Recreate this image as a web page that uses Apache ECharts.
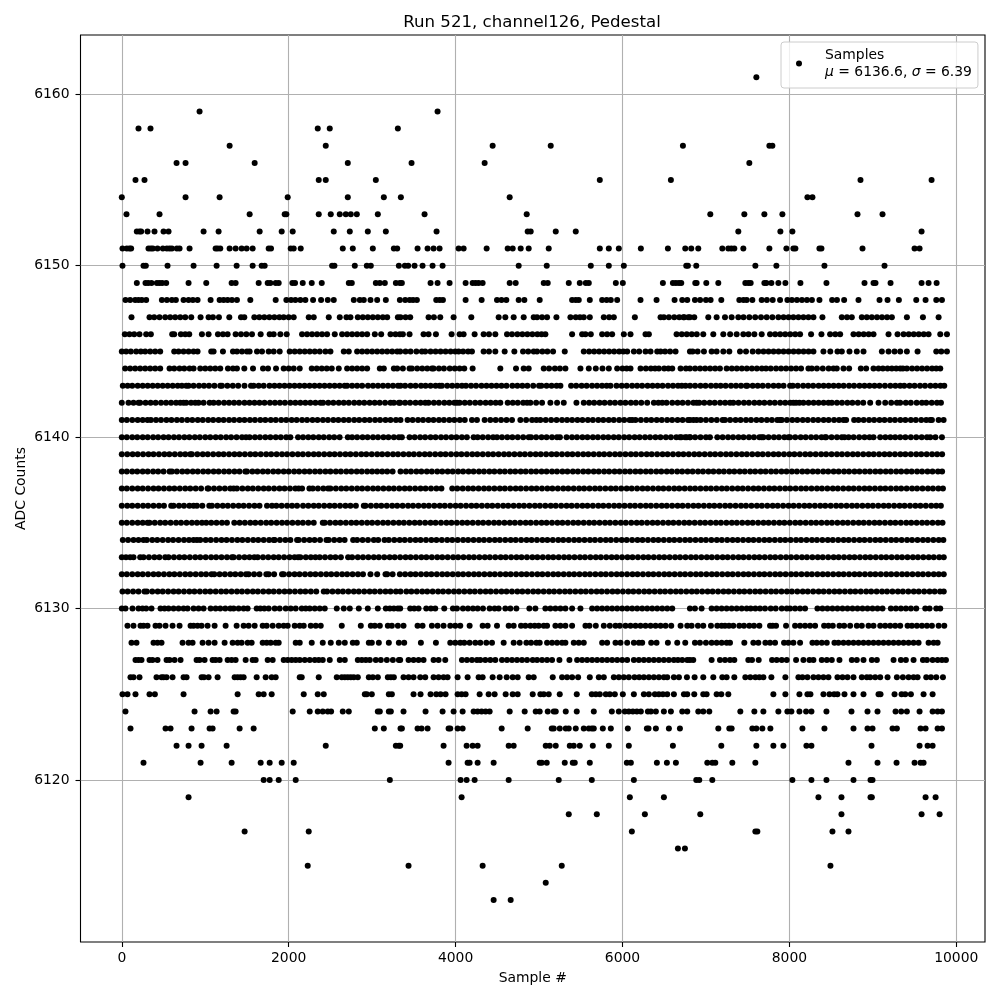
<!DOCTYPE html>
<html><head><meta charset="utf-8">
<script src="https://cdn.jsdelivr.net/npm/echarts@6/dist/echarts.min.js"></script>
<style>html,body{margin:0;padding:0;background:#fff}#c{width:1000px;height:1000px}</style>
</head><body><div id="c"></div>
<script>
const adc6161=[7604];
const adc6160=[];
const adc6159=[932,3784];
const adc6158=[200,344,2348,2492,3308];
const adc6157=[1292,2444,4444,5140,6724,7760,7796];
const adc6156=[656,764,1592,2708,3472,4348,7520];
const adc6155=[164,272,2360,2444,3044,5728,6580,8852,9704];
const adc6154=[0,764,1172,1988,2708,3140,3344,4648,8216,8276];
const adc6153=[56,452,1532,1952,1972,2360,2504,2612,2684,2744,2816,3068,3628,4852,7052,7460,7700,7916,8816,9116];
const adc6152=[180,212,232,308,392,500,560,980,1160,1652,1916,2048,2540,2732,2948,3164,3772,4864,4900,5200,5440,7388,7892,8036,9584];
const adc6151=[8,60,92,112,320,348,372,428,492,540,572,600,660,692,812,1124,1148,1180,1292,1364,1436,1496,1568,1760,1788,2024,2060,2144,2648,2768,3008,3260,3300,3544,3664,3736,3808,4036,4096,4372,4624,4684,4780,4876,5116,5728,5836,5956,6220,6544,6752,6824,6908,7196,7268,7304,7340,7448,7760,7964,8048,8072,8360,8384,8876,9500,9560];
const adc6150=[8,260,288,548,860,1136,1376,1568,1676,1712,2520,2548,2792,2936,2984,3320,3392,3432,3508,3604,3724,3844,4756,5092,5620,5836,6016,6764,6784,6884,7592,7844,8420,9140];
const adc6149=[180,284,316,356,420,452,484,532,800,1012,1316,1364,1640,1748,1780,1844,1880,2044,2076,2168,2276,2396,2720,2756,3044,3092,3152,3284,3332,3356,3700,3784,3928,4120,4204,4240,4276,4324,4648,4720,5056,5104,5356,5488,5560,5596,5920,6004,6484,6604,6640,6676,6704,6872,6888,7004,7148,7472,7508,7536,7700,7724,7784,7868,7952,8132,8444,8900,9008,9032,9212,9584,9668,9764];
const adc6148=[44,100,160,200,240,292,480,540,600,648,740,800,852,908,1064,1172,1220,1268,1320,1380,1540,1844,1972,2028,2080,2140,2200,2292,2388,2468,2540,2780,2852,2900,2980,3060,3164,3332,3396,3450,3490,3536,3768,3810,3848,4120,4312,4496,4550,4608,4756,4824,5008,5396,5440,5476,5608,5756,5810,5860,5936,6216,6408,6624,6716,6776,6868,6930,7000,7056,7184,7400,7450,7488,7556,7668,7730,7800,7888,7976,8030,8090,8150,8210,8270,8360,8512,8570,8656,8828,9080,9176,9312,9520,9632,9760,9828];
const adc6147=[116,332,388,452,520,580,640,700,760,832,944,1040,1092,1164,1288,1428,1468,1588,1648,1708,1768,1828,1888,1940,2000,2060,2240,2300,2480,2612,2692,2740,2828,2888,2948,3008,3068,3128,3180,3308,3340,3400,3456,3676,3740,3816,3976,4188,4516,4596,4696,4816,4936,4976,5036,5096,5208,5376,5440,5490,5536,5608,5776,5840,5896,6148,6456,6496,6556,6620,6680,6740,6808,6730,6788,6860,7028,7128,7228,7308,7388,7450,7520,7590,7660,7728,7796,7868,7930,7990,8048,8108,8168,8228,8288,8396,8628,8690,8748,8868,8928,8988,9050,9110,9170,9228,9408,9600,9788];
const adc6146=[36,92,148,212,292,348,604,628,708,760,808,960,1040,1152,1212,1268,1364,1428,1492,1560,1664,1772,1820,1900,1976,2160,2220,2280,2340,2400,2460,2552,2640,2700,2760,2820,2880,2940,3032,3108,3220,3280,3332,3368,3448,3616,3676,3764,3952,4048,4096,4228,4336,4400,4476,4616,4676,4740,4800,4860,4920,4980,5030,5076,5396,5516,5556,5620,5756,5816,5876,6016,6096,6276,6316,6648,6710,6770,6830,6890,6968,7088,7208,7290,7368,7448,7510,7580,7668,7768,7830,7890,7950,8010,8070,8128,8260,8384,8488,8550,8608,8768,8830,8890,8950,9008,9188,9296,9368,9430,9490,9550,9610,9668,9808,9888];
const adc6145=[0,52,108,172,228,280,340,400,460,628,680,740,800,860,908,1072,1100,1212,1332,1380,1440,1500,1532,1620,1680,1760,1820,1892,2012,2072,2132,2192,2252,2312,2372,2440,2500,2660,2720,2820,2880,2940,3000,3060,3120,3180,3240,3300,3336,3400,3460,3530,3596,3636,3700,3760,3820,3880,3940,3996,4036,4090,4150,4196,4336,4400,4476,4588,4704,4808,4870,4936,4976,5040,5100,5168,5308,5536,5600,5660,5720,5780,5840,5900,5960,6010,6056,6136,6200,6276,6336,6416,6456,6510,6570,6636,6808,6840,6900,6976,7068,7128,7208,7280,7408,7480,7560,7628,7690,7750,7810,7870,7930,7990,8050,8110,8170,8230,8288,8408,8490,8576,8628,8720,8808,8888,9108,9188,9260,9328,9408,9536,9760,9820,9888];
const adc6144=[40,100,160,220,280,340,400,460,572,628,692,748,812,860,940,1000,1060,1120,1180,1272,1332,1380,1468,1572,1692,1752,1848,1940,2000,2060,2132,2276,2336,2396,2456,2516,2600,2700,2760,2820,2880,2940,3092,3140,3260,3300,3368,3448,3476,3540,3600,3660,3716,3736,3800,3860,3930,3990,4048,4104,4204,4536,4724,4816,4876,5056,5120,5190,5250,5316,5496,5596,5680,5760,5836,5936,6000,6050,6096,6216,6280,6340,6390,6436,6500,6550,6596,6696,6760,6808,6870,6930,6990,7050,7110,7168,7248,7310,7370,7430,7490,7550,7610,7670,7720,7776,7840,7900,7960,8020,8080,8140,8228,8268,8330,8400,8470,8528,8568,8648,8716,8856,8920,9008,9068,9120,9176,9228,9280,9328,9360,9408,9470,9530,9590,9650,9710,9760,9808];
const adc6143=[12,70,125,190,250,310,370,430,490,550,610,670,720,772,800,860,925,985,1045,1110,1180,1200,1265,1330,1395,1470,1548,1580,1640,1700,1770,1830,1890,1950,2010,2070,2130,2190,2250,2310,2370,2430,2490,2550,2610,2670,2700,2760,2820,2880,2950,3010,3070,3130,3190,3250,3310,3340,3395,3460,3520,3585,3640,3700,3760,3808,3836,3900,3960,4020,4076,4124,4185,4245,4310,4370,4430,4490,4550,4610,4680,4740,4800,4860,4930,5000,5028,5090,5150,5210,5256,5384,5445,5510,5570,5635,5695,5755,5810,5856,5928,5990,6050,6115,6175,6235,6300,6360,6420,6480,6545,6605,6665,6710,6756,6810,6870,6935,6995,7060,7120,7176,7236,7300,7360,7420,7480,7496,7560,7620,7680,7745,7810,7870,7930,8008,8040,8100,8165,8225,8285,8350,8410,8470,8530,8590,8650,8715,8775,8840,8900,8960,9020,9080,9145,9210,9270,9328,9376,9440,9500,9565,9625,9690,9750,9810,9856];
const adc6142=[0,80,140,200,220,285,345,405,470,530,590,650,700,740,772,830,880,920,980,1052,1100,1160,1225,1285,1345,1405,1470,1530,1590,1650,1710,1775,1835,1895,1955,2020,2080,2140,2200,2260,2320,2380,2412,2475,2535,2600,2660,2720,2785,2845,2905,2970,3030,3090,3155,3220,3260,3320,3336,3395,3455,3520,3580,3636,3676,3740,3800,3865,3925,3985,4016,4048,4110,4170,4235,4295,4360,4420,4480,4536,4624,4685,4745,4810,4856,4896,4965,5036,5136,5216,5296,5448,5536,5600,5660,5725,5785,5850,5910,5975,6035,6100,6160,6225,6296,6376,6430,6476,6528,6596,6660,6720,6785,6850,6888,6920,6980,7045,7105,7170,7230,7288,7328,7390,7455,7515,7580,7640,7700,7765,7825,7890,7950,8010,8048,8080,8120,8168,8230,8290,8350,8410,8468,8508,8570,8630,8695,8755,8820,8885,8968,9068,9148,9220,9288,9328,9395,9455,9525,9588,9640,9705,9768,9816];
const adc6141=[0,60,125,190,250,308,348,410,470,535,595,660,720,785,845,910,970,1035,1095,1160,1220,1285,1345,1410,1470,1535,1595,1660,1720,1785,1845,1910,1970,2035,2095,2160,2220,2285,2345,2410,2470,2535,2595,2660,2720,2785,2845,2910,2970,3035,3095,3160,3220,3285,3340,3424,3485,3550,3610,3675,3735,3800,3860,3925,3985,4050,4110,4196,4256,4348,4416,4480,4545,4610,4676,4776,4845,4916,4968,5016,5080,5145,5210,5275,5336,5396,5460,5520,5585,5645,5710,5770,5835,5895,5960,6020,6085,6116,6156,6220,6285,6345,6410,6470,6535,6595,6660,6720,6785,6808,6850,6888,6936,7000,7065,7130,7200,7228,7290,7355,7415,7480,7540,7605,7665,7730,7790,7855,7888,7908,7970,8035,8095,8160,8220,8285,8345,8410,8470,8535,8595,8648,8680,8776,8828,8890,8955,9015,9080,9140,9205,9265,9330,9390,9455,9515,9580,9640,9688,9708,9788,9848];
const adc6140=[0,60,125,185,250,310,375,435,500,560,625,685,750,810,875,935,1000,1060,1125,1185,1250,1310,1375,1440,1488,1532,1595,1655,1720,1780,1845,1905,1970,2020,2112,2172,2235,2295,2360,2420,2485,2545,2610,2708,2760,2820,2885,2945,3010,3070,3135,3195,3260,3320,3356,3448,3510,3575,3635,3700,3760,3825,3885,3950,4010,4075,4135,4216,4264,4325,4390,4450,4496,4556,4620,4680,4745,4810,4876,4904,4965,5030,5090,5155,5215,5250,5330,5395,5455,5520,5580,5645,5705,5770,5830,5895,5955,6020,6080,6145,6205,6270,6330,6395,6455,6520,6580,6645,6705,6770,6808,6688,6750,6810,6870,6935,7000,7048,7136,7200,7265,7325,7390,7450,7515,7575,7640,7668,7688,7750,7815,7875,7940,7988,8008,8070,8135,8195,8260,8320,8385,8428,8440,8505,8570,8628,8660,8710,8770,8836,8900,8960,9008,9088,9150,9210,9268,9328,9390,9455,9520,9585,9648,9688,9750,9828];
const adc6139=[0,65,130,190,255,320,380,445,510,570,635,700,760,820,840,905,970,1030,1095,1160,1220,1285,1350,1410,1475,1540,1600,1665,1730,1790,1855,1920,1980,2045,2110,2170,2235,2300,2360,2425,2490,2550,2615,2680,2740,2805,2870,2930,2995,3060,3120,3185,3250,3310,3375,3440,3500,3565,3630,3690,3755,3820,3880,3945,4010,4070,4135,4200,4260,4325,4390,4450,4515,4580,4640,4705,4770,4830,4895,4960,5020,5085,5150,5210,5275,5340,5400,5465,5530,5590,5655,5720,5780,5845,5910,5970,6035,6100,6160,6225,6290,6350,6415,6480,6540,6605,6670,6730,6795,6860,6920,6985,7050,7110,7175,7240,7300,7365,7430,7490,7555,7620,7680,7745,7810,7870,7935,8000,8060,8125,8190,8250,8315,8380,8440,8505,8570,8630,8695,8760,8820,8885,8950,9010,9075,9140,9200,9265,9330,9390,9455,9520,9580,9645,9710,9770,9830];
const adc6138=[0,60,125,185,250,310,375,435,500,572,600,660,725,785,850,910,975,1035,1100,1160,1225,1285,1350,1410,1480,1500,1565,1625,1690,1750,1815,1875,1940,2000,2065,2125,2190,2250,2315,2375,2440,2500,2565,2625,2690,2750,2815,2875,2940,3000,3060,3120,3180,3245,3340,3405,3465,3530,3590,3655,3715,3780,3840,3905,3965,4030,4090,4155,4215,4280,4340,4405,4465,4530,4590,4655,4715,4780,4840,4905,4965,5030,5090,5155,5215,5280,5340,5405,5465,5530,5590,5655,5715,5780,5840,5905,5965,6030,6090,6155,6215,6280,6340,6405,6465,6530,6590,6655,6715,6780,6840,6905,6965,7030,7090,7155,7215,7280,7340,7405,7465,7530,7590,7655,7715,7780,7840,7905,7965,8030,8090,8155,8215,8280,8340,8405,8465,8530,8590,8655,8715,8780,8840,8905,8965,9030,9090,9155,9215,9280,9340,9405,9465,9530,9590,9655,9715,9780,9830];
const adc6137=[0,60,125,190,250,315,380,440,505,570,630,695,760,820,885,950,1028,1040,1105,1170,1235,1300,1340,1380,1445,1510,1570,1635,1700,1760,1825,1890,1950,2015,2080,2120,2160,2248,2288,2350,2415,2472,2500,2565,2630,2690,2755,2820,2880,2945,3010,3070,3135,3200,3260,3325,3390,3450,3515,3580,3640,3705,3770,3830,3960,4020,4085,4150,4210,4275,4340,4400,4465,4530,4590,4655,4720,4780,4845,4910,4970,5035,5100,5160,5225,5290,5350,5415,5480,5540,5605,5670,5730,5795,5860,5920,5985,6050,6110,6175,6240,6300,6365,6430,6490,6555,6620,6680,6745,6810,6870,6935,7000,7060,7125,7190,7250,7315,7380,7440,7505,7570,7630,7695,7760,7820,7885,7950,8010,8075,8140,8200,8265,8330,8390,8455,8520,8580,8645,8710,8770,8835,8900,8960,9025,9090,9150,9215,9280,9340,9405,9470,9530,9595,9660,9720,9785,9840];
const adc6136=[0,65,125,190,255,315,380,445,505,592,620,685,745,810,860,900,965,1048,1080,1145,1210,1270,1335,1400,1460,1525,1590,1650,1740,1800,1852,1915,1980,2040,2100,2172,2235,2300,2360,2425,2490,2550,2615,2680,2740,2805,2900,2920,2985,3050,3110,3175,3240,3300,3365,3430,3490,3555,3620,3680,3745,3810,3870,3935,4000,4060,4125,4190,4250,4315,4380,4440,4505,4570,4630,4695,4760,4820,4885,4950,5010,5075,5140,5200,5265,5330,5390,5455,5520,5580,5645,5710,5770,5835,5900,5960,6025,6090,6150,6215,6280,6340,6405,6470,6530,6595,6660,6720,6785,6850,6910,6975,7040,7100,7165,7230,7290,7355,7420,7480,7545,7610,7670,7735,7800,7860,7925,7990,8050,8115,8180,8240,8305,8370,8430,8495,8560,8620,8685,8750,8810,8875,8940,9000,9065,9130,9190,9255,9320,9380,9445,9510,9570,9635,9700,9760,9815];
const adc6135=[0,60,125,190,250,308,332,395,460,520,585,650,710,775,840,900,960,1012,1072,1135,1200,1260,1348,1412,1475,1540,1600,1665,1730,1790,1855,1920,1980,2045,2110,2170,2235,2300,2408,2432,2495,2560,2620,2685,2750,2810,2875,2940,3000,3065,3130,3190,3255,3320,3380,3445,3510,3570,3635,3700,3760,3825,3890,3950,4015,4080,4140,4205,4270,4330,4395,4460,4520,4585,4650,4710,4775,4840,4900,4965,5030,5090,5155,5220,5280,5345,5410,5470,5535,5600,5660,5725,5790,5850,5915,5980,6040,6105,6170,6230,6295,6360,6420,6485,6550,6610,6675,6740,6800,6865,6930,6990,7055,7120,7180,7245,7310,7370,7435,7500,7560,7625,7690,7750,7815,7880,7940,8005,8070,8130,8195,8260,8320,8385,8450,8510,8575,8640,8700,8765,8830,8890,8955,9020,9080,9145,9210,9270,9335,9400,9460,9525,9590,9650,9715,9780,9835];
const adc6134=[12,75,140,200,260,300,365,425,490,555,615,680,745,805,860,900,940,1005,1065,1130,1195,1255,1320,1385,1445,1510,1575,1635,1700,1765,1820,1832,1895,1960,2020,2100,2120,2185,2250,2310,2375,2452,2480,2545,2610,2670,2772,2820,2885,2950,3020,3072,3148,3200,3265,3330,3390,3455,3520,3580,3645,3710,3770,3835,3900,3960,4025,4090,4150,4215,4280,4340,4405,4470,4530,4595,4660,4720,4785,4850,4910,4975,5040,5100,5165,5230,5290,5355,5420,5480,5545,5610,5670,5735,5800,5860,5925,5990,6050,6115,6180,6240,6305,6370,6430,6495,6560,6620,6685,6750,6810,6875,6940,7000,7065,7130,7190,7255,7320,7380,7445,7510,7570,7635,7700,7760,7825,7890,7950,8015,8080,8140,8205,8270,8330,8395,8460,8520,8585,8650,8710,8775,8840,8900,8965,9030,9090,9155,9220,9280,9345,9410,9470,9535,9600,9660,9725,9790,9845];
const adc6133=[0,50,100,140,220,260,325,390,450,520,560,625,690,750,815,880,940,1005,1070,1130,1195,1260,1320,1340,1405,1470,1530,1588,1628,1692,1755,1820,1880,1945,2010,2070,2112,2140,2205,2265,2320,2372,2435,2500,2560,2625,2712,2760,2828,2890,2955,3020,3080,3145,3210,3270,3335,3400,3460,3525,3590,3650,3715,3780,3840,3905,3970,4030,4095,4160,4220,4285,4350,4410,4475,4540,4600,4665,4730,4790,4855,4920,4980,5045,5110,5170,5235,5300,5360,5425,5490,5550,5615,5680,5740,5805,5870,5930,5995,6060,6120,6185,6250,6310,6375,6440,6500,6565,6630,6690,6755,6820,6880,6945,7010,7070,7135,7200,7260,7325,7390,7450,7515,7580,7640,7705,7770,7830,7895,7960,8020,8085,8150,8210,8275,8340,8400,8465,8530,8590,8655,8720,8780,8845,8910,8970,9035,9100,9160,9225,9290,9350,9415,9480,9540,9605,9670,9730,9795,9850];
const adc6132=[0,60,125,190,250,315,380,440,505,570,630,695,760,820,885,950,1010,1075,1108,1172,1235,1300,1360,1425,1488,1520,1585,1650,1732,1760,1825,1920,1940,2005,2070,2130,2195,2260,2320,2385,2450,2510,2575,2640,2700,2765,2830,2890,2980,3060,3160,3180,3245,3332,3395,3460,3520,3585,3650,3710,3775,3840,3900,3965,4030,4090,4155,4220,4280,4345,4410,4470,4535,4600,4660,4725,4790,4850,4915,4980,5040,5105,5170,5230,5295,5360,5420,5485,5550,5610,5675,5740,5800,5865,5930,5990,6055,6120,6180,6245,6310,6370,6435,6500,6560,6625,6690,6750,6815,6880,6940,7005,7070,7130,7195,7260,7320,7385,7450,7510,7575,7640,7700,7765,7830,7890,7955,8020,8080,8145,8210,8270,8335,8400,8460,8525,8590,8650,8715,8780,8840,8905,8970,9030,9095,9160,9220,9285,9350,9410,9475,9540,9600,9665,9730,9790,9850];
const adc6131=[8,70,135,200,272,300,365,430,490,555,620,680,745,810,870,935,1000,1060,1125,1190,1250,1315,1380,1440,1505,1570,1630,1695,1760,1820,1885,1950,2010,2075,2140,2200,2265,2330,2420,2460,2525,2590,2650,2715,2780,2840,2905,2970,3030,3095,3160,3220,3285,3340,3410,3470,3535,3600,3660,3725,3790,3850,3915,3980,4040,4105,4170,4230,4295,4360,4420,4485,4550,4610,4675,4740,4800,4865,4930,4990,5055,5120,5180,5245,5310,5370,5435,5500,5560,5625,5690,5750,5815,5880,5940,6005,6070,6130,6195,6260,6320,6385,6450,6510,6575,6640,6700,6765,6830,6890,6955,7020,7080,7145,7210,7270,7335,7400,7460,7525,7590,7650,7715,7780,7840,7905,7970,8030,8095,8160,8220,8285,8350,8410,8475,8540,8600,8665,8730,8790,8855,8920,8980,9045,9110,9170,9235,9300,9360,9425,9490,9550,9615,9680,9740,9805,9850];
const adc6130=[0,44,128,200,248,292,356,464,512,560,620,680,740,788,860,920,980,1064,1124,1180,1240,1300,1340,1400,1460,1508,1616,1660,1708,1760,1832,1892,1964,2024,2084,2156,2204,2252,2312,2372,2432,2576,2660,2732,2840,2948,3068,3164,3212,3260,3308,3336,3456,3504,3556,3648,3704,3756,3864,3968,4016,4088,4148,4208,4264,4328,4408,4468,4516,4596,4656,4728,4884,4956,5076,5136,5196,5256,5316,5396,5496,5636,5696,5756,5816,5876,5936,5996,6056,6116,6176,6236,6296,6356,6416,6476,6536,6596,6808,6868,6948,7068,7128,7188,7248,7308,7368,7428,7488,7536,7592,7648,7708,7776,7836,7908,7968,8008,8068,8128,8188,8336,8396,8456,8516,8576,8636,8696,8756,8816,8876,8936,8996,9056,9116,9216,9276,9336,9396,9456,9520,9628,9680,9760,9808];
const adc6129=[68,140,224,260,308,404,452,524,608,692,824,860,908,956,1028,1112,1244,1376,1460,1520,1592,1688,1736,1808,1880,1940,1988,2072,2132,2180,2264,2324,2384,2636,2864,2984,3032,3092,3188,3236,3308,3376,3544,3604,3716,3784,3856,3936,3996,4056,4168,4324,4384,4496,4636,4696,4784,4836,4896,4948,4996,5056,5096,5196,5256,5316,5396,5556,5604,5680,5776,5848,5916,5968,6036,6096,6156,6216,6276,6336,6396,6456,6516,6584,6696,6776,6828,6904,6968,7060,7136,7188,7228,7276,7328,7400,7456,7520,7576,7640,7768,7800,7840,7960,8068,8128,8188,8248,8308,8416,8468,8520,8600,8656,8728,8808,8868,8948,9008,9088,9148,9208,9268,9328,9416,9468,9528,9588,9648,9708,9788,9856];
const adc6128=[116,176,380,428,476,728,800,848,968,1040,1112,1232,1328,1388,1436,1508,1556,1688,1736,1784,1844,1880,2084,2132,2276,2408,2504,2600,2672,2768,2816,2960,2996,3080,3200,3320,3384,3584,3764,3936,3996,4056,4104,4168,4236,4296,4368,4436,4576,4696,4768,4848,4904,4968,5008,5096,5156,5216,5276,5316,5416,5476,5536,5756,5816,5916,5976,6056,6136,6196,6236,6344,6408,6544,6656,6752,6868,6928,7000,7068,7128,7188,7248,7288,7460,7568,7628,7712,7768,7828,7936,7988,8048,8128,8276,8328,8388,8448,8540,8588,8648,8708,8768,8828,8888,8948,9008,9068,9128,9188,9248,9308,9368,9428,9488,9548,9668,9728,9776];
const adc6127=[164,200,236,332,368,428,536,572,632,704,896,932,992,1088,1124,1172,1268,1316,1364,1484,1568,1604,1748,1808,1940,1988,2036,2084,2132,2192,2252,2312,2360,2408,2492,2612,2672,2828,2876,2924,2972,3044,3104,3176,3248,3320,3336,3436,3496,3556,3616,3736,3796,3876,4076,4136,4196,4256,4296,4356,4416,4476,4556,4616,4676,4736,4796,4856,4924,4976,5036,5096,5156,5244,5364,5456,5516,5576,5636,5696,5756,5816,5876,5936,5996,6056,6136,6196,6256,6316,6376,6436,6496,6556,6616,6664,6716,6776,6808,6848,7068,7168,7228,7288,7340,7508,7552,7632,7792,7848,7908,7968,8080,8168,8240,8288,8388,8448,8508,8600,8748,8808,8888,8988,9048,9248,9336,9396,9488,9600,9648,9716,9776,9828,9876];
const adc6126=[104,140,212,416,476,500,536,608,740,776,956,984,1040,1148,1352,1388,1424,1460,1616,1724,1796,1844,2132,2156,2360,2576,2636,2672,2708,2744,2780,2828,2960,3008,3068,3188,3224,3260,3376,3436,3496,3576,3636,3736,3796,3856,3904,4024,4144,4276,4324,4444,4528,4612,4684,4744,4876,4936,5164,5276,5336,5396,5468,5608,5716,5776,5896,5956,6016,6076,6144,6200,6256,6316,6376,6436,6496,6536,6616,6676,6772,6864,6968,7088,7196,7248,7340,7472,7532,7592,7640,7688,7784,7952,8108,8156,8216,8288,8348,8408,8468,8576,8636,8696,8768,8868,8928,8968,9028,9088,9176,9288,9360,9428,9488,9536,9640,9696,9760,9840];
const adc6125=[8,68,164,332,396,740,1388,1640,1700,1796,2180,2348,2420,2912,2936,2996,3200,3236,3496,3580,3700,3768,3820,3880,4024,4072,4120,4288,4396,4468,4600,4684,4744,4924,5016,5056,5116,5248,5452,5632,5680,5728,5800,5848,5908,6004,6136,6256,6316,6388,6436,6484,6536,6616,6736,6776,6860,6968,7008,7128,7184,7268,7808,7952,8120,8216,8252,8408,8480,8536,8576,8660,8768,8888,9068,9092,9260,9344,9388,9456,9608,9716];
const adc6124=[44,872,1064,1136,1340,1364,2048,2252,2348,2408,2468,2508,2648,2720,3068,3092,3200,3224,3376,3640,3844,3976,4084,4216,4264,4312,4360,4408,4648,4828,4960,5008,5104,5176,5200,5320,5452,5656,5872,5956,6028,6076,6124,6172,6220,6304,6340,6400,6496,6580,6716,6776,6908,6968,7040,7412,7580,7688,7868,7976,8024,8120,8200,8264,8444,8744,8936,9056,9272,9340,9408,9560,9716,9776,9828];
const adc6123=[104,524,584,836,1052,1088,1412,1580,3032,3140,3340,3356,3544,3592,3664,3916,3936,4024,4084,4552,4864,5152,5176,5248,5320,5356,5440,5536,5596,5632,5656,5764,5860,6064,6292,6312,6400,6556,6688,7148,7280,7308,7556,7604,7676,7772,8156,8420,8768,8936,8996,9236,9288,9572,9632,9776,9828];
const adc6122=[656,800,956,1256,2444,3284,3320,3336,3856,4132,4204,4264,4636,4696,5080,5128,5200,5368,5416,5488,5644,5836,6076,6604,7184,7604,7808,7928,8204,8264,8984,9560,9656,9716];
const adc6121=[260,944,1316,1664,1772,1916,2060,3916,4144,4168,4264,4456,5008,5032,5092,5308,5404,5428,5608,6052,6100,6412,6532,6640,7016,7076,7112,7316,7592,8708,9056,9284,9500,9572,9608];
const adc6120=[1700,1772,1880,2084,3212,4060,4132,4228,4636,5236,5632,6136,6884,6920,7076,8036,8264,8444,8768,8972,8996];
const adc6119=[800,4072,6088,6496,8348,8624,8972,8988,9632,9752];
const adc6118=[5356,5692,6268,6932,8624,9584,9800];
const adc6117=[1472,2240,6112,7592,7616,8516,8708];
const adc6116=[6664,6748];
const adc6115=[2228,3436,4324,5272,8492];
const adc6114=[5080];
const adc6113=[4456,4660];

const rowLevels=[6161,6160,6159,6158,6157,6156,6155,6154,6153,6152,6151,6150,6149,6148,6147,6146,6145,6144,6143,6142,6141,6140,6139,6138,6137,6136,6135,6134,6133,6132,6131,6130,6129,6128,6127,6126,6125,6124,6123,6122,6121,6120,6119,6118,6117,6116,6115,6114,6113];
const rowSamples=[adc6161,adc6160,adc6159,adc6158,adc6157,adc6156,adc6155,adc6154,adc6153,adc6152,adc6151,adc6150,adc6149,adc6148,adc6147,adc6146,adc6145,adc6144,adc6143,adc6142,adc6141,adc6140,adc6139,adc6138,adc6137,adc6136,adc6135,adc6134,adc6133,adc6132,adc6131,adc6130,adc6129,adc6128,adc6127,adc6126,adc6125,adc6124,adc6123,adc6122,adc6121,adc6120,adc6119,adc6118,adc6117,adc6116,adc6115,adc6114,adc6113];
const xTicks=[0,2000,4000,6000,8000,10000];
const yTicks=[6120,6130,6140,6150,6160];
const titleText='Run 521, channel126, Pedestal';
const xName='Sample #';
const yName='ADC Counts';

const points=[];
rowLevels.forEach((v,i)=>rowSamples[i].forEach(s=>points.push([s,v])));
const font='"DejaVu Sans"';
const chart=echarts.init(document.getElementById('c'),null,{renderer:'canvas'});
chart.setOption({
  animation:false,
  backgroundColor:'#fff',
  title:{text:titleText,left:532,top:14,textAlign:'center',textVerticalAlign:'top',padding:0,textStyle:{fontFamily:font,fontSize:16.6,fontWeight:'normal',color:'#000'}},
  grid:{left:80.5,right:15,top:35,bottom:58,show:true,borderColor:'#000',borderWidth:1.1,backgroundColor:'transparent',containLabel:false},
  xAxis:{type:'value',min:-495,max:10344,name:xName,nameLocation:'middle',nameGap:29,
    nameTextStyle:{fontFamily:font,fontSize:13.9,color:'#000'},
    axisLine:{show:false,onZero:false},
    axisTick:{show:true,length:5,lineStyle:{color:'#000',width:1.1},customValues:xTicks},
    axisLabel:{color:'#000',fontFamily:font,fontSize:13.9,margin:9,customValues:xTicks,formatter:v=>String(v)},
    splitLine:{show:true,lineStyle:{color:'#b0b0b0',width:1.1}}},
  yAxis:{type:'value',min:6110.55,max:6163.46,name:yName,nameLocation:'middle',nameGap:52,nameMoveOverlap:false,
    nameTextStyle:{fontFamily:font,fontSize:13.9,color:'#000'},
    axisLine:{show:false,onZero:false},
    axisTick:{show:true,length:5,lineStyle:{color:'#000',width:1.1},customValues:yTicks},
    axisLabel:{color:'#000',fontFamily:font,fontSize:13.9,margin:11,customValues:yTicks,formatter:v=>String(v)},
    splitLine:{show:true,lineStyle:{color:'#b0b0b0',width:1.1}}},
  legend:{show:true,left:781,top:42,orient:'vertical',icon:'circle',itemWidth:6,itemHeight:6,itemGap:0,
    padding:[6,6,9,15],backgroundColor:'rgba(255,255,255,0.8)',borderColor:'#ccc',borderWidth:1,borderRadius:3,
    data:[{name:'Samples'}],
    formatter:()=>'{a|Samples}\n{a|}{i|\u03bc}{a| = 6136.6, }{i|\u03c3}{a| = 6.39}',
    textStyle:{fontFamily:font,fontSize:13.9,color:'#000',padding:[0,0,0,18],
      rich:{a:{fontFamily:font,fontSize:13.9,lineHeight:17,color:'#000'},i:{fontFamily:font,fontStyle:'italic',fontSize:13.9,lineHeight:17,color:'#000'}}}},
  series:[{name:'Samples',type:'scatter',data:points,symbol:'circle',symbolSize:6,large:false,
    itemStyle:{color:'#000',opacity:1},silent:true}]
});
</script></body></html>
